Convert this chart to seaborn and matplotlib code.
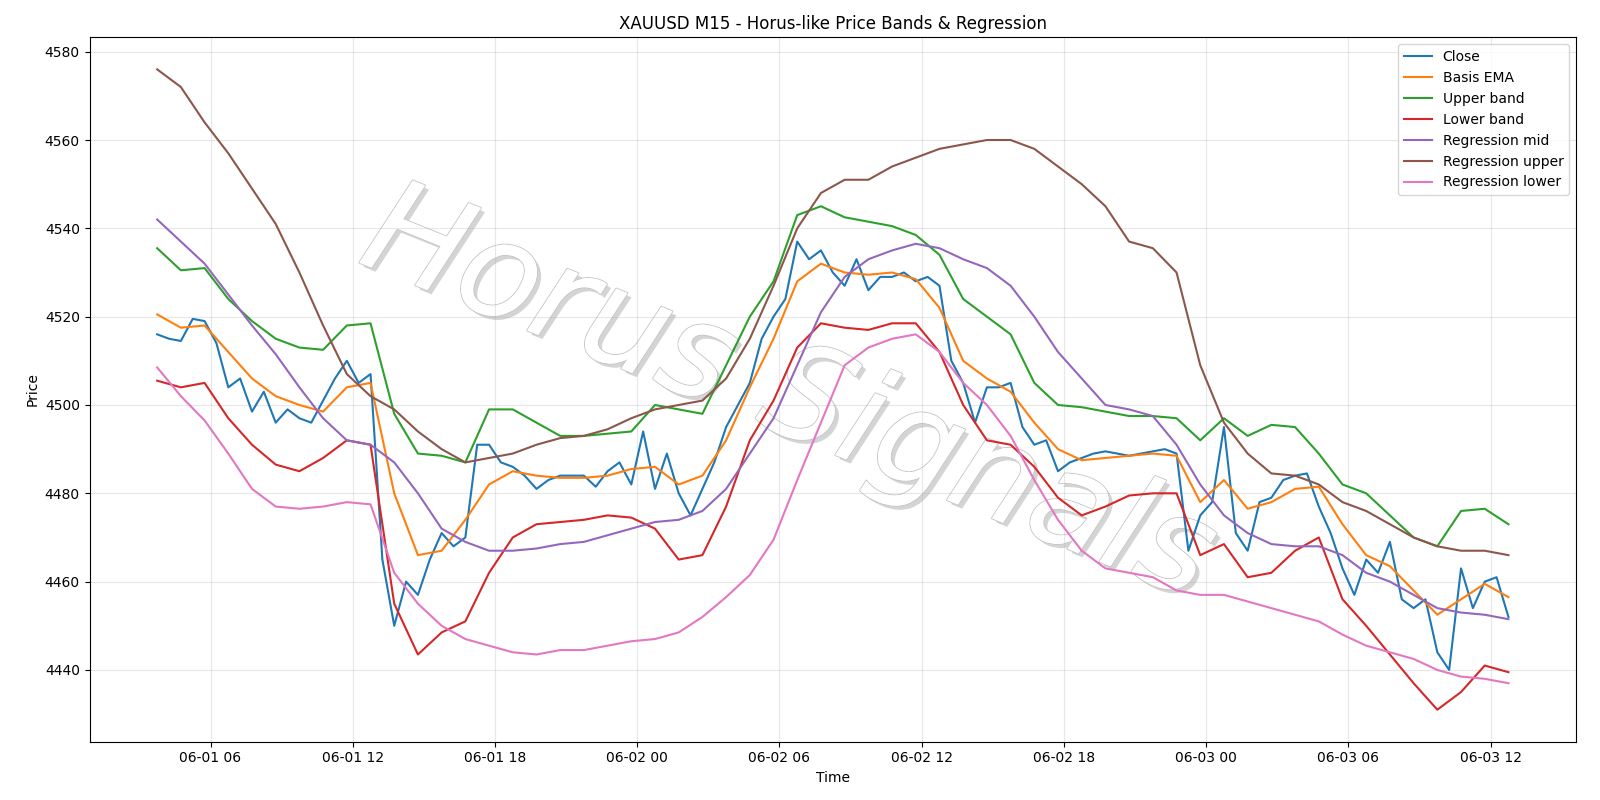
import numpy as np
import pandas as pd
import seaborn as sns
import matplotlib.pyplot as plt
import matplotlib.dates as mdates
import matplotlib.patheffects as pe

# hourly band / regression readings, starting 06-01 03:45
basis_ema = [4520.5, 4517.5, 4518, 4512, 4506, 4502, 4500, 4498.5, 4504, 4505, 4480, 4466, 4467, 4474, 4482, 4485,
             4484, 4483.5, 4483.5, 4484, 4485.5, 4486, 4482, 4484, 4492, 4504, 4515, 4528, 4532, 4530, 4529.5, 4530,
             4528.5, 4522, 4510, 4506, 4503, 4496, 4490, 4487.5, 4488, 4488.5, 4489, 4488.5, 4478, 4483, 4476.5, 4478,
             4481, 4481.5, 4473, 4466, 4463.5, 4458, 4452.5, 4456, 4459.5, 4456.5]
upper_band = [4535.5, 4530.5, 4531, 4524, 4519, 4515, 4513, 4512.5, 4518, 4518.5, 4498, 4489, 4488.5, 4487, 4499, 4499,
              4496, 4493, 4493, 4493.5, 4494, 4500, 4499, 4498, 4509, 4520, 4528, 4543, 4545, 4542.5, 4541.5, 4540.5,
              4538.5, 4534, 4524, 4520, 4516, 4505, 4500, 4499.5, 4498.5, 4497.5, 4497.5, 4497, 4492, 4497, 4493, 4495.5,
              4495, 4489, 4482, 4480, 4475, 4470, 4468, 4476, 4476.5, 4473]
lower_band = [4505.5, 4504, 4505, 4497, 4491, 4486.5, 4485, 4488, 4492, 4491, 4455, 4443.5, 4448.5, 4451, 4462, 4470,
              4473, 4473.5, 4474, 4475, 4474.5, 4472, 4465, 4466, 4477, 4492, 4501, 4513, 4518.5, 4517.5, 4517, 4518.5,
              4518.5, 4512, 4500, 4492, 4491, 4486, 4479, 4475, 4477, 4479.5, 4480, 4480, 4466, 4468.5, 4461, 4462,
              4467, 4470, 4456, 4450, 4443.5, 4437, 4431, 4435, 4441, 4439.5]
reg_mid = [4542, 4537, 4532, 4525, 4518, 4511.5, 4504, 4497, 4492, 4491, 4487, 4480, 4472, 4469, 4467, 4467,
           4467.5, 4468.5, 4469, 4470.5, 4472, 4473.5, 4474, 4476, 4481, 4489, 4497, 4509, 4521, 4529, 4533, 4535,
           4536.5, 4535.5, 4533, 4531, 4527, 4520, 4512, 4506, 4500, 4499, 4497.5, 4491, 4482, 4475, 4471, 4468.5,
           4468, 4468, 4466, 4462, 4460, 4457, 4454, 4453, 4452.5, 4451.5]
reg_upper = [4576, 4572, 4564, 4557, 4549, 4541, 4530, 4518, 4507, 4502, 4499, 4494, 4490, 4487, 4488, 4489,
             4491, 4492.5, 4493, 4494.5, 4497, 4499, 4500, 4501, 4506, 4515, 4527, 4540, 4548, 4551, 4551, 4554,
             4556, 4558, 4559, 4560, 4560, 4558, 4554, 4550, 4545, 4537, 4535.5, 4530, 4509, 4496, 4489, 4484.5,
             4484, 4482, 4478, 4476, 4473, 4470, 4468, 4467, 4467, 4466]
reg_lower = [4508.5, 4502, 4496.5, 4489, 4481, 4477, 4476.5, 4477, 4478, 4477.5, 4462, 4455, 4450, 4447, 4445.5, 4444,
             4443.5, 4444.5, 4444.5, 4445.5, 4446.5, 4447, 4448.5, 4452, 4456.5, 4461.5, 4469.5, 4483, 4496, 4509, 4513, 4515,
             4516, 4512, 4505, 4500, 4493, 4483, 4474, 4467, 4463, 4462, 4461, 4458, 4457, 4457, 4455.5, 4454,
             4452.5, 4451, 4448, 4445.5, 4444, 4442.5, 4440, 4438.5, 4438, 4437]

# close readings every 30 minutes
close = [4516, 4515, 4514.5, 4519.5, 4519, 4514, 4504, 4506, 4498.5, 4503, 4496, 4499, 4497, 4496, 4501, 4506,
         4510, 4505, 4507, 4465, 4450, 4460, 4457, 4465, 4471, 4468, 4470, 4491, 4491, 4487, 4486, 4484,
         4481, 4483, 4484, 4484, 4484, 4481.5, 4485, 4487, 4482, 4494, 4481, 4489, 4480, 4475, 4481, 4487,
         4495, 4500, 4505, 4515, 4520, 4524, 4537, 4533, 4535, 4530, 4527, 4533, 4526, 4529, 4529, 4530,
         4528, 4529, 4527, 4510, 4505, 4496, 4504, 4504, 4505, 4495, 4491, 4492, 4485, 4487, 4488, 4489,
         4489.5, 4489, 4488.5, 4489, 4489.5, 4490, 4489, 4467, 4475, 4478, 4495, 4471, 4467, 4478, 4479, 4483,
         4484, 4484.5, 4477, 4471, 4463, 4457, 4465, 4462, 4469, 4456, 4454, 4456, 4444, 4440, 4463, 4454,
         4460, 4461, 4452]

start = pd.Timestamp("2025-06-01 03:45")
hours = pd.date_range(start, periods=len(basis_ema), freq="1h")
halfs = pd.date_range(start, periods=len(close), freq="30min")

fig, ax = plt.subplots(figsize=(16, 8), dpi=100)
colors = sns.color_palette("tab10")

sns.lineplot(x=halfs, y=close, ax=ax, color=colors[0], label="Close", linewidth=1.5, zorder=3)
series = [("Basis EMA", basis_ema), ("Upper band", upper_band), ("Lower band", lower_band),
          ("Regression mid", reg_mid), ("Regression upper", reg_upper), ("Regression lower", reg_lower)]
for i, (name, vals) in enumerate(series, start=1):
    sns.lineplot(x=hours, y=vals, ax=ax, color=colors[i], label=name, linewidth=1.5, zorder=3)

# watermark behind the lines
ax.text(0.47, 0.49, "Horus Signals", transform=ax.transAxes, fontsize=95, style="italic",
        fontweight="light", color="white", rotation=-22, ha="center", va="center", zorder=1,
        path_effects=[pe.SimplePatchShadow(offset=(3, -3), shadow_rgbFace="#aaaaaa", alpha=0.5),
                      pe.withStroke(linewidth=1.5, foreground="#c8c8c8"), pe.Normal()])

ax.xaxis.set_major_locator(mdates.HourLocator(byhour=[0, 6, 12, 18]))
ax.xaxis.set_major_formatter(mdates.DateFormatter("%m-%d %H"))
ax.grid(True, alpha=0.3)
ax.set_title("XAUUSD M15 - Horus-like Price Bands & Regression")
ax.set_xlabel("Time")
ax.set_ylabel("Price")
ax.legend(loc="upper right")
plt.tight_layout()
plt.subplots_adjust(left=0.056, right=0.985)
plt.savefig("out.png", dpi=100)
plt.close(fig)
